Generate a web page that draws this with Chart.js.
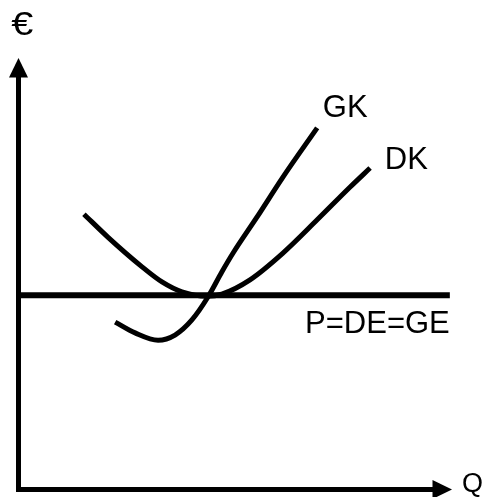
<!DOCTYPE html>
<html>
<head>
<meta charset="utf-8">
<script src="https://cdn.jsdelivr.net/npm/chart.js@4/dist/chart.umd.min.js"></script>
<style>
html,body{margin:0;padding:0;background:#fff;}
#c{display:block;}
</style>
</head>
<body>
<canvas id="c" width="487" height="497"></canvas>
<script>
// Data (conceptual units: Q from 0..100, € from 0..100)
const dkQ    = [15.1, 20.6, 28.5, 33.1, 37.7, 43.5, 46.9, 53.4, 61.0, 68.9, 76.5, 81.1];
const dkEuro = [63.8, 58.5, 51.6, 48.1, 45.8, 44.8, 45.3, 48.6, 54.8, 62.5, 70.1, 74.5];
const gkQ    = [22.3, 26.9, 32.2, 36.1, 40.0, 43.7, 46.9, 49.5, 55.0, 61.0, 68.9];
const gkEuro = [38.8, 36.3, 34.6, 35.8, 39.3, 44.6, 50.4, 54.8, 63.1, 72.4, 83.8];
const priceQ    = [0, 99.5];
const priceEuro = [45, 45];
const curveLabels = ['GK', 'DK', 'P=DE=GE'];
const axisLabels  = ['€', 'Q'];

// label anchor positions (data units) kept separate from data
const labelPos = {
  'GK': [70.2, 86.3],
  'DK': [84.5, 74.3],
  'P=DE=GE': [66.1, 36.3],
  '€': [-1.7, 105.3],
  'Q': [102.3, -0.6]
};
const FONT = '"Liberation Sans", Arial, Helvetica, sans-serif';

const toPts = (xs, ys) => xs.map((x, i) => ({x: x, y: ys[i]}));

const axesPlugin = {
  id: 'econAxes',
  afterDraw(chart) {
    const ctx = chart.ctx;
    const xs = chart.scales.x, ys = chart.scales.y;
    const x0 = xs.getPixelForValue(0), y0 = ys.getPixelForValue(0);
    const yTop = ys.getPixelForValue(100), xRight = xs.getPixelForValue(100);
    ctx.save();
    ctx.strokeStyle = '#000';
    ctx.fillStyle = '#000';
    ctx.lineWidth = 5;
    ctx.lineCap = 'butt';
    // vertical axis
    ctx.beginPath();
    ctx.moveTo(x0, y0 + 2.5);
    ctx.lineTo(x0, yTop + 19);
    ctx.stroke();
    // horizontal axis
    ctx.beginPath();
    ctx.moveTo(x0 - 2.5, y0);
    ctx.lineTo(xRight - 19, y0);
    ctx.stroke();
    // arrow heads
    ctx.beginPath();
    ctx.moveTo(x0, yTop);
    ctx.lineTo(x0 - 9.5, yTop + 19.5);
    ctx.lineTo(x0 + 9.5, yTop + 19.5);
    ctx.closePath();
    ctx.fill();
    ctx.beginPath();
    ctx.moveTo(xRight, y0);
    ctx.lineTo(xRight - 19.5, y0 - 9.5);
    ctx.lineTo(xRight - 19.5, y0 + 9.5);
    ctx.closePath();
    ctx.fill();
    // labels
    ctx.textAlign = 'left';
    ctx.textBaseline = 'alphabetic';
    curveLabels.forEach(t => {
      const p = labelPos[t];
      ctx.font = '31px ' + FONT;
      ctx.fillText(t, xs.getPixelForValue(p[0]), ys.getPixelForValue(p[1]));
    });
    // euro sign: slightly wider glyph as in the reference
    ctx.save();
    ctx.font = '33px ' + FONT;
    const ex = xs.getPixelForValue(labelPos['€'][0]), ey = ys.getPixelForValue(labelPos['€'][1]);
    ctx.translate(ex, ey);
    ctx.scale(1.2, 1);
    ctx.fillText(axisLabels[0], 0, 0);
    ctx.restore();
    ctx.font = '27px ' + FONT;
    ctx.fillText(axisLabels[1], xs.getPixelForValue(labelPos['Q'][0]), ys.getPixelForValue(labelPos['Q'][1]));
    ctx.restore();
  }
};

new Chart(document.getElementById('c'), {
  type: 'scatter',
  data: {
    datasets: [
      { label: 'P=DE=GE', data: toPts(priceQ, priceEuro), showLine: true, borderColor: '#000', borderWidth: 6, pointRadius: 0, borderCapStyle: 'butt', clip: false },
      { label: 'DK', data: toPts(dkQ, dkEuro), showLine: true, borderColor: '#000', borderWidth: 5, pointRadius: 0, cubicInterpolationMode: 'monotone', borderCapStyle: 'butt', clip: false },
      { label: 'GK', data: toPts(gkQ, gkEuro), showLine: true, borderColor: '#000', borderWidth: 5, pointRadius: 0, cubicInterpolationMode: 'monotone', borderCapStyle: 'butt', clip: false }
    ]
  },
  options: {
    responsive: false,
    animation: false,
    devicePixelRatio: 1,
    layout: { padding: { left: 18.5, right: 35, top: 58, bottom: 7.5 } },
    plugins: { legend: { display: false }, tooltip: { enabled: false } },
    scales: {
      x: { type: 'linear', min: 0, max: 100, display: false },
      y: { type: 'linear', min: 0, max: 100, display: false }
    }
  },
  plugins: [axesPlugin]
});
</script>
</body>
</html>
